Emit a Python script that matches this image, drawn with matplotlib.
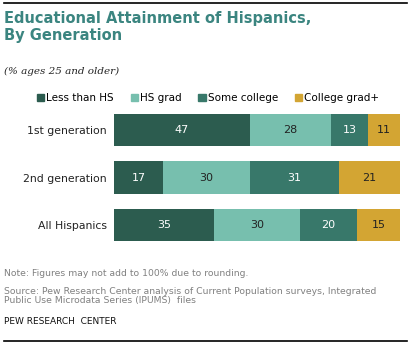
import numpy as np
import matplotlib.pyplot as plt
from matplotlib.lines import Line2D
from matplotlib.patches import Patch

groups = ['1st generation', '2nd generation', 'All Hispanics']
series = ['Less than HS', 'HS grad', 'Some college', 'College grad+']
less_hs = [47, 17, 35]
hs_grad = [28, 30, 30]
some_college = [13, 31, 20]
college_plus = [11, 21, 15]

colors = ['#2c5c4f', '#77bfae', '#38786a', '#d3a533']
label_colors = ['white', '#222222', 'white', '#222222']

vals = np.array([less_hs, hs_grad, some_college, college_plus], dtype=float)
# bars all fill the full width, so scale each row by its total
shares = vals / vals.sum(axis=0) * 100

fig = plt.figure(figsize=(4.11, 3.45), dpi=100)

fig.add_artist(Line2D([4/411, 407/411], [1 - 3/345, 1 - 3/345], color='black', lw=1.2))
fig.add_artist(Line2D([4/411, 407/411], [1 - 341/345, 1 - 341/345], color='black', lw=1.2))

fig.text(4/411, 1 - 27/345, 'Educational Attainment of Hispanics,\nBy Generation',
         fontsize=10.5, fontweight='bold', color='#3b8580', va='center', ha='left',
         linespacing=1.15)
fig.text(4/411, 1 - 71/345, '(% ages 25 and older)', fontsize=7.5, style='italic',
         family='DejaVu Serif', color='#222222', va='center')

ax = fig.add_axes([114/411, 1 - 249/345, 286/411, 143/345])
y = np.arange(len(groups))
left = np.zeros(len(groups))
for i in range(len(series)):
    ax.barh(y, shares[i], left=left, height=0.674, color=colors[i], label=series[i])
    for j in range(len(groups)):
        ax.text(left[j] + shares[i][j] / 2, y[j], '%d' % vals[i][j], ha='center', va='center',
                fontsize=8, color=label_colors[i])
    left += shares[i]

ax.set_xlim(0, 100)
ax.set_ylim(2.5, -0.5)
ax.set_yticks(y)
ax.set_yticklabels(groups, fontsize=7.8, color='#222222')
ax.tick_params(axis='y', length=0, pad=5)
ax.set_xticks([])
for s in ax.spines.values():
    s.set_visible(False)

handles = [Patch(color=c) for c in colors]
fig.legend(handles, series, loc='center', bbox_to_anchor=(0.506, 1 - 98/345), ncol=4,
           frameon=False, fontsize=7.5, handlelength=0.7, handleheight=0.7,
           handletextpad=0.2, columnspacing=1.6)

fig.text(4/411, 1 - 273/345, 'Note: Figures may not add to 100% due to rounding.',
         fontsize=6.7, color='#808080', va='center')
fig.text(4/411, 1 - 296/345,
         'Source: Pew Research Center analysis of Current Population surveys, Integrated\n'
         'Public Use Microdata Series (IPUMS)  files',
         fontsize=6.7, color='#808080', va='center', linespacing=0.9)
fig.text(4/411, 1 - 321/345, 'PEW RESEARCH  CENTER', fontsize=6.5, color='#111111', va='center')

fig.savefig('out.png', dpi=100)
